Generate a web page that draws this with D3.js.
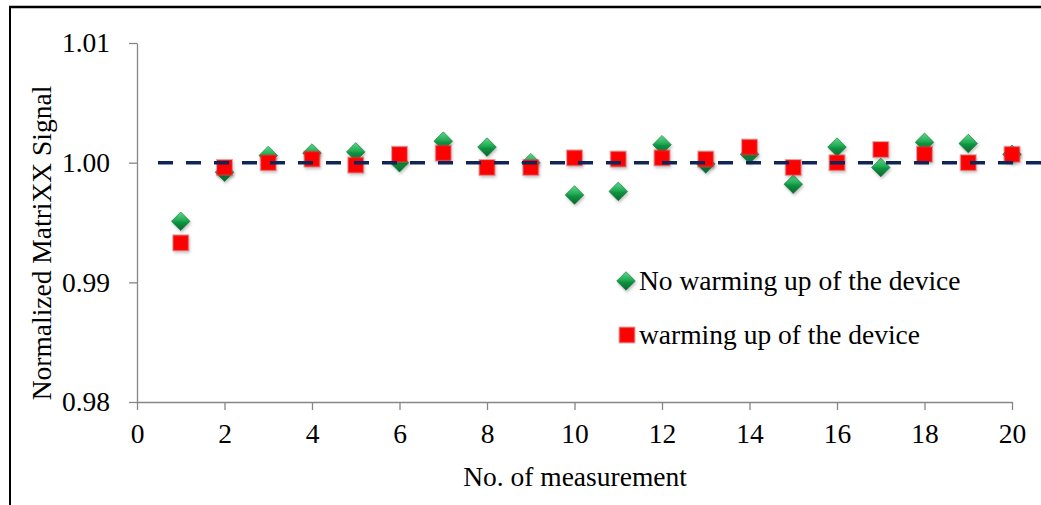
<!DOCTYPE html>
<html>
<head>
<meta charset="utf-8">
<script src="https://cdn.jsdelivr.net/npm/d3@7"></script>
<style>
  body { margin: 0; background: #fff; }
  .axis path, .axis line { stroke: #868686; stroke-width: 1.3; }
</style>
</head>
<body>
<div id="chart"></div>
<script>
// measurement numbers
var measurementNo = [1,2,3,4,5,6,7,8,9,10,11,12,13,14,15,16,17,18,19,20];
// normalized signal, no warming up
var noWarmUp = [0.9951,0.9992,1.0006,1.0008,1.0009,1.0000,1.0018,1.0013,1.0000,0.9973,
                0.9976,1.0015,0.9999,1.0007,0.9982,1.0013,0.9996,1.0017,1.0016,1.0007];
// normalized signal, warming up
var warmUp = [0.9933,0.9996,1.0000,1.0003,0.9998,1.0007,1.0008,0.9996,0.9996,1.0004,
              1.0003,1.0004,1.0003,1.0013,0.9996,1.0000,1.0011,1.0007,1.0000,1.0007];
// reference line at 1.00
var refLine = [{x: 0.48, y: 1.0}, {x: 21.5, y: 1.0}];
var xTicks = [0,2,4,6,8,10,12,14,16,18,20];
var yTicks = [0.98,0.99,1.00,1.01];
var seriesNames = ["No warming up of the device", "warming up of the device"];

var width = 1041, height = 505;
var FONT = "'Liberation Serif', 'Times New Roman', Times, serif";
var fs = "27.5px";

var svg = d3.select("#chart").append("svg")
    .attr("width", width)
    .attr("height", height)
    .attr("font-family", FONT);

var defs = svg.append("defs");
var grad = defs.append("linearGradient").attr("id", "gDia")
    .attr("x1", 0).attr("y1", 0).attr("x2", 0).attr("y2", 1);
grad.append("stop").attr("offset", "0%").attr("stop-color", "#5fd98a");
grad.append("stop").attr("offset", "45%").attr("stop-color", "#1faa52");
grad.append("stop").attr("offset", "55%").attr("stop-color", "#0f9443");
grad.append("stop").attr("offset", "100%").attr("stop-color", "#06652b");

var shadow = defs.append("filter").attr("id", "shd")
    .attr("x", "-50%").attr("y", "-50%").attr("width", "200%").attr("height", "200%");
shadow.append("feDropShadow").attr("dx", 1).attr("dy", 2).attr("stdDeviation", 1.5)
    .attr("flood-color", "#000").attr("flood-opacity", 0.25);

// frame (only top and left are visible in the crop)
svg.append("line").attr("x1", 9).attr("x2", width).attr("y1", 7).attr("y2", 7)
    .attr("stroke", "#000").attr("stroke-width", 2.5);
svg.append("line").attr("x1", 10).attr("x2", 10).attr("y1", 6).attr("y2", height)
    .attr("stroke", "#000").attr("stroke-width", 2);

var x = d3.scaleLinear().domain([0, 20]).range([137, 1012]);
var y = d3.scaleLinear().domain([0.98, 1.01]).range([402, 43]);

// x axis
var xAxis = svg.append("g").attr("class", "axis")
    .attr("transform", "translate(0," + y(0.98) + ")")
    .call(d3.axisBottom(x).tickValues(xTicks).tickSize(8).tickSizeOuter(0).tickPadding(13));
xAxis.attr("font-family", null).attr("font-size", null);
xAxis.selectAll("text").style("font-family", FONT).style("font-size", fs).attr("fill", "#000");

// y axis
var yAxis = svg.append("g").attr("class", "axis")
    .attr("transform", "translate(" + x(0) + ",0)")
    .call(d3.axisLeft(y).tickValues(yTicks).tickFormat(d3.format(".2f")).tickSize(8).tickSizeOuter(0).tickPadding(19));
yAxis.attr("font-family", null).attr("font-size", null);
yAxis.selectAll("text").style("font-family", FONT).style("font-size", fs).attr("fill", "#000");

// axis titles
svg.append("text")
    .attr("x", 575).attr("y", 486)
    .attr("text-anchor", "middle")
    .style("font-family", FONT).style("font-size", fs)
    .text("No. of measurement");

svg.append("text")
    .attr("transform", "translate(51,243) rotate(-90)")
    .attr("text-anchor", "middle")
    .style("font-family", FONT).style("font-size", fs)
    .text("Normalized MatriXX Signal");

var diamond = d3.symbol().type(d3.symbolDiamond2).size(220);

// no warming up: green diamonds
svg.append("g").selectAll("path")
    .data(measurementNo)
    .enter().append("path")
    .attr("d", diamond)
    .attr("transform", function (d, i) { return "translate(" + x(d) + "," + y(noWarmUp[i]) + ")"; })
    .attr("fill", "url(#gDia)")
    .attr("stroke", "#0a7030").attr("stroke-width", 0.6)
    .attr("filter", "url(#shd)");

// warming up: red squares
var sq = 15;
svg.append("g").selectAll("rect")
    .data(measurementNo)
    .enter().append("rect")
    .attr("x", function (d) { return x(d) - sq / 2; })
    .attr("y", function (d, i) { return y(warmUp[i]) - sq / 2; })
    .attr("width", sq).attr("height", sq)
    .attr("fill", "#ff0000")
    .attr("stroke", "rgba(215,60,60,0.45)").attr("stroke-width", 2)
    .attr("filter", "url(#shd)");

// dashed reference line on top
svg.append("path")
    .datum(refLine)
    .attr("fill", "none")
    .attr("stroke", "#0f2557")
    .attr("stroke-width", 3.5)
    .attr("stroke-dasharray", "15,13")
    .attr("d", d3.line()
        .x(function (d) { return x(d.x); })
        .y(function (d) { return y(d.y); }));

// legend
var legend = svg.append("g");
legend.append("path")
    .attr("d", diamond)
    .attr("transform", "translate(626,281)")
    .attr("fill", "url(#gDia)")
    .attr("stroke", "#0a7030").attr("stroke-width", 0.6)
    .attr("filter", "url(#shd)");
legend.append("text")
    .attr("x", 639).attr("y", 290)
    .style("font-family", FONT).style("font-size", fs)
    .text(seriesNames[0]);
legend.append("rect")
    .attr("x", 627 - sq / 2).attr("y", 335 - sq / 2)
    .attr("width", sq).attr("height", sq)
    .attr("fill", "#ff0000")
    .attr("stroke", "rgba(215,60,60,0.45)").attr("stroke-width", 2);
legend.append("text")
    .attr("x", 639).attr("y", 344)
    .style("font-family", FONT).style("font-size", fs)
    .text(seriesNames[1]);
</script>
</body>
</html>
